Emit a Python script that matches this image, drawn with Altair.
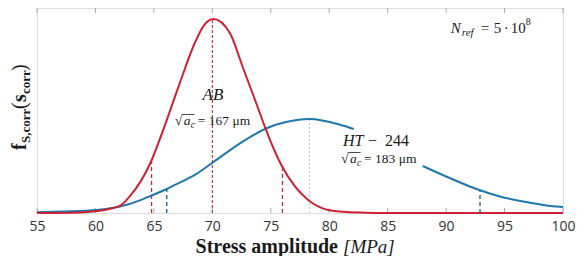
import altair as alt
import pandas as pd

# ---------------- data ----------------
# AB (red) density curve
red_s = [55, 58, 60, 61.5, 62.2, 62.9, 64.7, 65.7, 67.1, 68.5, 69.3, 70.1, 71.5,
         72.6, 73.75, 74.6, 75.9, 77.1, 78.2, 79.9, 81.5, 83, 85, 100]
red_f = [0, 0.0002, 0.001, 0.003, 0.0047, 0.0095, 0.0296, 0.0473, 0.0746, 0.1006,
         0.1112, 0.1148, 0.1065, 0.0864, 0.0651, 0.0491, 0.0284, 0.0154, 0.0077,
         0.0018, 0.0006, 0.0002, 0, 0]

# HT-244 (blue) density curve, interrupted behind its label
blue_s1 = [55, 57, 60.1, 62.9, 64.5, 66.1, 66.8, 68.5, 70.1, 72.4, 74.7, 76.3,
           78.3, 81, 82.1]
blue_f1 = [0.0004, 0.0009, 0.0018, 0.0053, 0.0095, 0.0142, 0.0166, 0.0225, 0.0302,
           0.0414, 0.0503, 0.0538, 0.0556, 0.0521, 0.0497]
blue_s2 = [88, 90.5, 92.6, 94.6, 97.1, 99.5, 100]
blue_f2 = [0.0278, 0.0201, 0.0142, 0.0098, 0.0062, 0.0038, 0.0036]

# marker lines (position, curve height)
red_q_s = [64.8, 76.0]
red_q_f = [0.031, 0.0273]
red_c_s = [70.0]
red_c_f = [0.1148]
blue_q_s = [66.1, 92.9]
blue_q_f = [0.0142, 0.0136]
blue_c_s = [78.3]
blue_c_f = [0.0556]

x_ticks = [55, 60, 65, 70, 75, 80, 85, 90, 95, 100]

# ---------------- styling ----------------
W, H = 526, 205
X0, Y0 = 37, 8  # page position of plot origin
SERIF = "Liberation Serif"
SANS = "Open Sans"
RED = "#cc2233"
BLUE = "#1e78aa"

xs = alt.Scale(domain=[55, 100], nice=False, zero=False)
ys = alt.Scale(domain=[0, 0.1213], nice=False, zero=False)
XAX = alt.Axis(values=x_ticks, ticks=False, domain=False, grid=False, labelFont=SANS,
               labelFontSize=14, labelColor="#333333", labelPadding=6,
               labelFlush=False, title=None)

red_df = pd.DataFrame({"s": red_s, "f": red_f})
blue_df = pd.DataFrame({
    "s": blue_s1 + blue_s2,
    "f": blue_f1 + blue_f2,
    "part": ["a"] * len(blue_s1) + ["b"] * len(blue_s2),
})

layers = []

# tick marks (inward, top and bottom)
tick_df = pd.DataFrame({"t": x_ticks})
for y1, y2 in [(H, H - 5), (0, 5)]:
    layers.append(
        alt.Chart(tick_df).mark_rule(color="#aaaaaa", strokeWidth=1).encode(
            x=alt.X("t:Q", scale=xs, axis=XAX),
            y=alt.value(y1), y2=alt.value(y2)))


def vlines(sv, fv, color, dash, width):
    df = pd.DataFrame({"s": sv, "f": fv, "z": [0] * len(sv)})
    return alt.Chart(df).mark_rule(color=color, strokeDash=dash, strokeWidth=width).encode(
        x=alt.X("s:Q", scale=xs, axis=XAX),
        y=alt.Y("z:Q", scale=ys, axis=None),
        y2="f:Q")


layers.append(vlines(blue_c_s, blue_c_f, "#a9d2ea", [2, 2], 1.2))
layers.append(vlines(red_c_s, red_c_f, "#a02035", [3, 2], 1))

# curves
layers.append(
    alt.Chart(blue_df).mark_line(color=BLUE, strokeWidth=2, interpolate="monotone").encode(
        x=alt.X("s:Q", scale=xs, axis=XAX),
        y=alt.Y("f:Q", scale=ys, axis=None),
        detail="part:N"))
layers.append(
    alt.Chart(red_df).mark_line(color=RED, strokeWidth=2, interpolate="monotone").encode(
        x=alt.X("s:Q", scale=xs, axis=XAX),
        y=alt.Y("f:Q", scale=ys, axis=None)))

layers.append(vlines(red_q_s, red_q_f, "#b8303f", [4, 3], 1.3))
layers.append(vlines(blue_q_s, blue_q_f, "#1c6a98", [4, 3], 1.4))

one = alt.Data(values=[{}])


def txt(text, x, y, size, dx=0, dy=0, style="normal", weight="normal", align="left",
        font=SERIF, angle=0, px=False, color="#1a1a1a"):
    m = alt.Chart(one).mark_text(text=text, fontSize=size, fontStyle=style, fontWeight=weight,
                                 align=align, baseline="alphabetic", font=font, angle=angle,
                                 dx=dx, dy=dy, color=color)
    if px:
        return m.encode(x=alt.value(x - X0), y=alt.value(y - Y0))
    return m.encode(x=alt.X(datum=x, scale=xs, axis=XAX),
                    y=alt.Y(datum=y, scale=ys, axis=None))


def overline(x1, x2, y):
    return alt.Chart(one).mark_rule(color="#1a1a1a", strokeWidth=0.8).encode(
        x=alt.X(datum=x1, scale=xs, axis=XAX), x2=alt.X2(datum=x2),
        y=alt.Y(datum=y, scale=ys, axis=None))


# AB label
layers.append(txt("AB", 70.05, 0.0669, 17, style="italic", align="center"))
# sqrt(a_c) = 167 um
ax, ay = 66.79, 0.0518
layers += [
    txt("√", ax, ay, 14, dx=0),
    txt("a", ax, ay, 13.5, dx=9, style="italic"),
    txt("c", ax, ay, 9.5, dx=16, dy=3, style="italic"),
    txt("= 167 μm", ax, ay, 13.5, dx=23),
    overline(67.42, 68.47, 0.0583),
]
# HT-244 label
hx, hy = 81.18, 0.0399
layers += [
    txt("HT", hx, hy, 16, style="italic"),
    txt("−", hx, hy, 16, dx=25),
    txt("244", hx, hy, 16, dx=42),
]
bx, by = 81.01, 0.0293
layers += [
    txt("√", bx, by, 14, dx=0),
    txt("a", bx, by, 13.5, dx=9, style="italic"),
    txt("c", bx, by, 9.5, dx=16, dy=3, style="italic"),
    txt("= 183 μm", bx, by, 13.5, dx=23),
    overline(81.64, 82.69, 0.0358),
]
# N_ref = 5 . 10^8
nx, ny = 90.4, 0.1065
layers += [
    txt("N", nx, ny, 15, style="italic"),
    txt("ref", nx, ny, 11, dx=11, dy=3, style="italic"),
    txt("=", nx, ny, 15, dx=30),
    txt("5", nx, ny, 15, dx=43),
    txt("·", nx, ny, 15, dx=53),
    txt("10", nx, ny, 15, dx=60),
    txt("8", nx, ny, 10, dx=75, dy=-8),
]

# x-axis title
layers += [
    txt("Stress amplitude", 338, 253, 20, weight="bold", align="right", px=True),
    txt("[MPa]", 343, 253, 19, style="italic", px=True),
]
# y-axis title (rotated)
ytitle = [
    ("f", 150, 25.5, 20, "bold", "normal"),
    ("S,corr", 143, 29.5, 13, "bold", "normal"),
    ("(", 109, 25.5, 20, "normal", "normal"),
    ("s", 102, 25.5, 20, "bold", "normal"),
    ("corr", 94, 29.5, 13, "bold", "normal"),
    (")", 71, 25.5, 20, "normal", "normal"),
]
for t, py, pxx, sz, wt, st in ytitle:
    layers.append(txt(t, pxx, py, sz, weight=wt, style=st, angle=270, px=True))

chart = alt.layer(*layers).properties(
    width=W, height=H,
    autosize=alt.AutoSizeParams(type="none"),
    padding={"left": X0 - 8, "top": 0, "right": 569 - (X0 - 8) - W, "bottom": 43},
).configure_view(stroke="#8a8a8a", strokeWidth=1).configure(background="white")

chart.save("out.html", embed_options={"renderer": "svg", "actions": False})
